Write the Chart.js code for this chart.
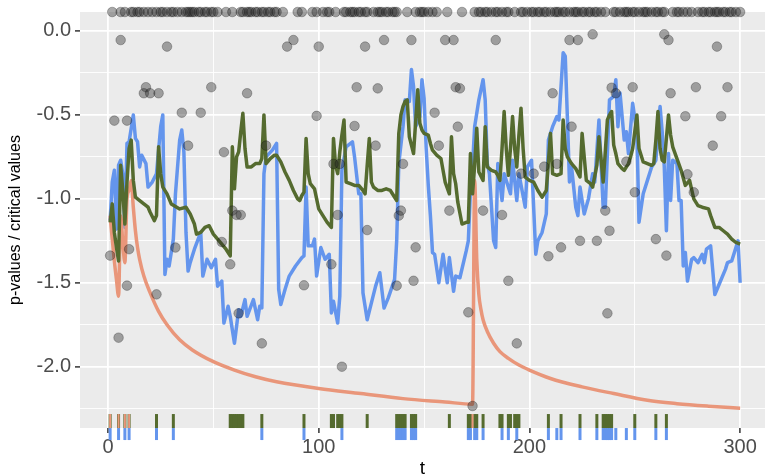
<!DOCTYPE html>
<html>
<head>
<meta charset="utf-8">
<script src="https://cdn.jsdelivr.net/npm/chart.js@4.4.1/dist/chart.umd.min.js"></script>
<style>
  html, body { margin: 0; padding: 0; background: #ffffff; overflow: hidden; }
  #wrap { width: 765px; height: 475px; position: relative; }
</style>
</head>
<body>
<div id="wrap"><canvas id="chart"></canvas></div>
<script>
// ticks
const xMajor = [0, 100, 200, 300];
const xMinor = [50, 150, 250];
const yMajor = [0, -0.5, -1, -1.5, -2];
const yMinor = [-0.25, -0.75, -1.25, -1.75, -2.25];
const xRange = [-13.3, 311.8];
const yRange = [-2.365, 0.113];

// linea azul
const blueT = [1,2,3,4,5,6,7,8,9,10, 12,13,14,15,16,18,19,21,23,24,
  25,26,27,28,29,31,32,34,35,36, 37,38,39,41,44,45,47,49,51,52,
  54,55,57,58,60,62,63,65,66,69, 71,72,73,74,75,78,80,81,82,84,
  86,89,92,93,94,95,97,98,99,101, 103,105,106,107,109,110,111,113,116,117,
  119,120,121,123,125,127,129,131,133,136, 137,138,140,141,143,144,145,146,148,149,
  150,151,152,153,154,155,157,159,161,162, 164,165,167,170,171,172,173,174,176,178,
  179,180,181,182,183,184,185,187,188,191, 192,194,195,198,199,201,202,203,204,206,
  208,209,211,213,214,216,217,218,219,220, 222,223,224,226,228,230,231,233,235,236,
  238,240,241,242,243,245,246,247,249,251, 252,254,256,258,260,262,263,264,265,266,
  267,268,270,271,272,273,274,275,277,278, 280,282,283,284,286,288,290,293,294,296,
  297,299,300];
const blueV = [-1.13,-0.90,-0.83,-1.18,-0.80,-0.77,-0.85,-1.17,-0.67,-0.66, -0.50,-0.64,-0.66,-0.81,-0.74,-0.79,-0.93,-0.90,-0.85,-0.71,
  -0.57,-0.50,-1.45,-1.36,-1.40,-1.24,-0.97,-0.65,-0.59,-0.72, -1.20,-1.43,-1.38,-1.30,-1.20,-1.46,-1.36,-1.41,-1.36,-1.52,
  -1.49,-1.74,-1.64,-1.70,-1.86,-1.66,-1.70,-1.60,-1.70,-1.60, -1.72,-1.64,-1.65,-0.85,-0.75,-0.71,-0.67,-1.54,-1.63,-1.54,
  -1.46,-1.40,-1.35,-1.34,-0.93,-1.28,-1.28,-1.24,-1.46,-1.29, -1.36,-1.33,-1.68,-1.61,-1.74,-1.58,-0.83,-0.69,-0.66,-0.75,
  -0.97,-0.97,-1.56,-1.72,-1.62,-1.52,-1.44,-1.65,-1.59,-1.48, -1.25,-0.79,-0.57,-0.41,-0.42,-0.23,-0.33,-0.57,-0.51,-0.29,
  -0.40,-0.70,-0.92,-1.10,-1.32,-1.33,-1.50,-1.33,-1.50,-1.35, -1.55,-1.46,-1.47,-1.31,-1.25,-0.95,-0.80,-0.57,-0.41,-0.29,
  -0.41,-0.79,-0.85,-1.05,-1.25,-1.29,-0.79,-1.01,-0.85,-0.97, -0.77,-1.01,-0.85,-1.05,-0.81,-0.77,-1.05,-1.33,-1.25,-1.20,
  -1.09,-0.65,-0.57,-0.51,-0.53,-0.13,-0.15,-0.51,-0.90,-0.81, -1.05,-1.10,-0.93,-1.09,-1.00,-0.85,-0.90,-0.53,-1.05,-1.05,
  -0.41,-0.39,-0.29,-0.57,-0.37,-0.65,-0.60,-0.73,-0.43,-0.61, -1.14,-0.97,-0.89,-0.81,-0.77,-0.45,-0.60,-0.81,-1.19,-0.73,
  -1.01,-0.77,-0.79,-1.01,-1.01,-1.40,-1.32,-1.49,-1.36,-1.35, -1.38,-1.33,-1.38,-1.30,-1.28,-1.57,-1.51,-1.42,-1.38,-1.37,
  -1.33,-1.25,-1.50];

// linea verde
const greenT = [1,2,3,4,5,6,7,8,9,10, 11,12,13,14,17,19,20,22,23,24,
  25,26,28,30,34,37,39,41,42,44, 46,48,50,52,54,56,58,59,60,61,
  62,63,64,65,66,68,70,72,73,74, 75,77,79,80,82,84,86,88,90,91,
  92,93,94,95,96,98,100,102,104,106, 107,108,109,110,111,112,113,115,117,119,
  121,122,123,124,125,126,128,130,132,134, 137,138,139,140,141,142,143,145,147,148,
  149,150,152,153,154,156,158,160,162,163, 164,165,166,168,170,171,172,173,174,175,
  176,178,179,180,182,184,185,186,187,188, 189,190,191,192,193,194,195,196,197,198,
  200,202,204,206,207,208,210,211,213,215, 216,217,218,220,222,224,225,227,229,230,
  232,233,235,236,237,238,239,240,241,242, 244,245,247,248,249,251,252,254,256,258,
  259,260,261,262,263,264,266,267,268,270, 272,274,276,278,280,282,285,286,288,290,
  292,294,296,298,300];
const greenV = [-1.14,-1.03,-1.20,-1.29,-1.37,-0.80,-0.95,-1.15,-0.90,-0.70, -0.65,-0.89,-0.99,-1.00,-1.03,-1.05,-1.08,-1.13,-1.10,-0.69,
  -0.85,-0.93,-0.97,-1.03,-1.06,-1.05,-1.09,-1.15,-1.21,-1.20, -1.17,-1.16,-1.21,-1.24,-1.27,-1.30,-1.34,-0.69,-0.94,-0.75,
  -0.72,-0.60,-0.49,-0.70,-0.81,-0.81,-0.79,-0.79,-0.76,-0.50, -0.79,-0.76,-0.74,-0.74,-0.78,-0.84,-0.89,-0.95,-1.00,-1.01,
  -0.98,-0.96,-0.64,-0.85,-0.91,-0.94,-1.06,-1.10,-1.14,-1.17, -0.64,-0.80,-0.85,-0.72,-0.62,-0.53,-0.90,-0.91,-0.92,-0.92,
  -0.95,-0.97,-0.80,-0.64,-0.90,-0.93,-0.95,-0.95,-0.94,-0.95, -1.01,-0.61,-0.50,-0.45,-0.42,-0.41,-0.63,-0.73,-0.35,-0.55,
  -0.59,-0.61,-0.62,-0.67,-0.71,-0.74,-0.76,-0.90,-0.97,-0.63, -0.85,-0.91,-1.02,-1.15,-1.14,-1.14,-0.73,-0.97,-0.80,-0.58,
  -0.84,-0.89,-0.57,-0.81,-0.83,-0.84,-0.86,-0.89,-0.70,-0.48, -0.70,-0.86,-0.70,-0.51,-0.70,-0.81,-0.62,-0.46,-0.70,-0.87,
  -0.89,-0.90,-0.95,-0.99,-0.97,-0.95,-0.61,-0.85,-0.86,-0.85, -0.53,-0.70,-0.75,-0.79,-0.82,-0.87,-0.61,-0.89,-0.91,-0.93,
  -0.80,-0.63,-0.90,-0.72,-0.53,-0.50,-0.48,-0.68,-0.73,-0.79, -0.82,-0.83,-0.79,-0.75,-0.70,-0.50,-0.70,-0.78,-0.79,-0.80,
  -0.79,-0.65,-0.48,-0.70,-0.77,-0.78,-0.50,-0.62,-0.69,-0.76, -0.83,-0.92,-0.89,-1.00,-1.04,-1.05,-1.06,-1.10,-1.17,-1.17,
  -1.19,-1.21,-1.24,-1.26,-1.27];

// valores criticos (naranja)
const orangeT = [1,2,3,4,5,6,7,8,9,10, 11,12,13,14,15,17,20,24,28,34,
  40,50,60,70,80,100,120,140,160,173, 174,175,176,177,178,180,183,186,190,195,
  200,210,225,240,256,270,285,300];
const orangeV = [-1.10,-1.24,-1.37,-1.48,-1.58,-1.10,-1.26,-1.38,-1.00,-0.95, -0.89,-1.05,-1.19,-1.29,-1.36,-1.46,-1.56,-1.67,-1.75,-1.84,
  -1.90,-1.97,-2.02,-2.06,-2.09,-2.13,-2.16,-2.19,-2.21,-2.223, -0.89,-1.36,-1.57,-1.66,-1.72,-1.79,-1.86,-1.91,-1.95,-1.99,
  -2.02,-2.07,-2.12,-2.16,-2.20,-2.22,-2.235,-2.247];

// p-valores
const pointT = [1,3,5,6,9,9,10,17,18,20, 23,24,28,32,35,38,44,49,54,55,
  58,59,61,62,63,66,73,75,85,88, 93,99,100,106,107,109,110,111,117,118,
  122,123,127,128,131,137,138,139,140,144, 145,146,155,157,160,162,164,165,166,167,
  171,173,178,184,187,190,194,196,202,207, 209,211,213,215,219,220,223,224,230,232,
  236,237,238,239,241,246,249,250,260,264, 265,266,267,274,275,278,279,287,289,291,
  294];
const pointV = [-1.338,-0.534,-1.827,-0.054,-1.517,-0.534,-1.30,-0.371,-0.335,-0.371,
  -1.569,-0.371,-0.093,-1.29,-0.487,-0.683,-0.487,-0.335,-1.257,-0.722,
  -1.39,-1.07,-1.096,-1.682,-1.096,-0.371,-1.861,-0.683,-0.093,-0.054,
  -1.515,-0.506,-0.093,-1.39,-0.792,-1.096,-0.792,-2.0,-0.566,-0.335,
  -0.093,-1.186,-0.683,-0.342,-0.054,-1.517,-1.10,-1.07,-0.792,-0.054,
  -1.488,-1.289,-0.487,-0.683,-0.054,-1.07,-0.054,-0.335,-0.57,-0.342,
  -1.676,-2.234,-1.07,-0.054,-1.096,-1.488,-1.861,-0.85,-0.85,-0.808,
  -1.342,-0.371,-0.792,-1.289,-0.054,-0.57,-0.054,-1.25,-0.02,-1.25,
  -1.07,-1.682,-1.19,-0.338,-0.371,-0.778,-0.335,-0.961,-1.24,-0.02,
  -1.338,-0.054,-0.371,-0.508,-0.854,-0.961,-0.335,-0.683,-0.093,-0.508,
  -0.335];

// p-valores en el borde superior
const topT = [2,6,8,11,12,14,15,17,19,21, 23,25,26,28,30,31,33,35,37,38,
  39,40,41,43,44,46,47,49,50,52, 56,59,63,64,66,67,68,70,71,73,
  74,76,77,79,80,83,90,92,97,99, 102,104,105,108,112,113,115,116,117,119,
  120,122,123,126,128,129,130,132,133,135, 136,137,142,146,148,149,150,152,154,156,
  161,168,174,176,177,179,180,182,184,185, 187,189,190,193,196,197,199,201,202,204,
  205,207,208,210,212,213,214,216,217,219, 221,222,223,225,226,228,229,231,232,234,
  236,240,241,243,245,246,247,249,250,252, 254,255,256,258,260,261,263,264,268,270,
  271,273,275,277,280,282,283,285,286,288, 289,290,292,293,295,296,298,300];

// rechazos (rug)
const greenRug = [1,5,8,10,23,31,58,59,60,61,62,63,64,73,93,106,107,109,110,111,123,
  137,138,139,140,141,144,145,146,162,171,172,174,175,178,186,187,190,191,193,194,195,
  209,215,224,232,235,236,237,238,239,250,260,265];
const blueRug = [1,5,8,10,23,31,73,93,111,137,138,139,140,141,144,145,146,171,172,174,175,
  178,187,190,194,209,213,215,224,232,235,236,237,238,239,241,246,250,260,265];
const orangeRug = [1,5,8,10,173];

const BLUE = '#6495ED';
const GREEN = '#556B2F';
const ORANGE = '#E9967A';

function xy(ts, vs) {
    return ts.map((t, i) => ({x: t, y: vs[i]}));
}
function atY(ts, y) {
    return ts.map(t => ({x: t, y: y}));
}

const greenRugY = -2.3235;
const blueRugY = -2.401;

const panelBg = {
    id: 'panelBg',
    beforeDraw(chart) {
        const {ctx, chartArea: a} = chart;
        ctx.save();
        ctx.fillStyle = '#EBEBEB';
        ctx.fillRect(a.left, a.top, a.right - a.left, a.bottom - a.top);
        ctx.restore();
    }
};

Chart.defaults.font.family = "'Liberation Sans', Arial, sans-serif";

const lineBase = {
    pointRadius: 0,
    borderWidth: 3.5,
    tension: 0,
    borderJoinStyle: 'round',
    fill: false
};
const dotStyle = {
    showLine: false,
    pointRadius: 4.8,
    pointHoverRadius: 0,
    pointBackgroundColor: 'rgba(40,40,40,0.4)',
    pointBorderColor: 'rgba(0,0,0,0.25)',
    pointBorderWidth: 1,
    clip: false
};
const rugStyle = {
    showLine: false,
    pointStyle: 'line',
    pointRotation: 90,
    pointHoverRadius: 0,
    clip: false
};

new Chart(document.getElementById('chart'), {
    type: 'line',
    data: {
        datasets: [
            Object.assign({data: atY(topT, yRange[1]), order: 0}, dotStyle),
            Object.assign({data: xy(pointT, pointV), order: 1}, dotStyle),
            Object.assign({data: xy(greenT, greenV), borderColor: GREEN, order: 2}, lineBase),
            Object.assign({data: xy(orangeT, orangeV), borderColor: ORANGE, cubicInterpolationMode: 'monotone', order: 3}, lineBase),
            Object.assign({data: xy(blueT, blueV), borderColor: BLUE, order: 4}, lineBase),
            Object.assign({data: atY(orangeRug, greenRugY), pointRadius: 7, pointBorderWidth: 2, pointBorderColor: ORANGE, order: 5}, rugStyle),
            Object.assign({data: atY(greenRug, greenRugY), pointRadius: 7, pointBorderWidth: 3, pointBorderColor: GREEN, order: 6}, rugStyle),
            Object.assign({data: atY(blueRug, blueRugY), pointRadius: 6, pointBorderWidth: 3, pointBorderColor: BLUE, order: 7}, rugStyle)
        ]
    },
    options: {
        responsive: true,
        maintainAspectRatio: false,
        devicePixelRatio: 1,
        animation: false,
        layout: { autoPadding: false, padding: { top: 12, left: 0, right: 0, bottom: 0 } },
        plugins: { legend: { display: false }, tooltip: { enabled: false } },
        scales: {
            x: {
                type: 'linear',
                min: xRange[0],
                max: xRange[1],
                afterBuildTicks: s => { s.ticks = xMajor.concat(xMinor).sort((a, b) => a - b).map(v => ({value: v})); },
                afterFit: s => { s.height = 47; s.paddingLeft = 0; s.paddingRight = 0; },
                border: { display: false },
                grid: {
                    color: '#FFFFFF',
                    lineWidth: c => (c.tick && xMajor.includes(c.tick.value)) ? 1.8 : 0.9,
                    tickColor: c => (c.tick && xMajor.includes(c.tick.value)) ? '#333333' : 'rgba(0,0,0,0)',
                    tickWidth: 1.5,
                    tickLength: 5
                },
                ticks: {
                    autoSkip: false,
                    maxRotation: 0,
                    padding: 2,
                    color: '#4D4D4D',
                    font: { size: 20 },
                    callback: v => xMajor.includes(v) ? String(v) : ''
                },
                title: {
                    display: true,
                    text: 't',
                    color: '#000000',
                    font: { size: 19, lineHeight: '12px' },
                    padding: { top: 0, bottom: 0 }
                }
            },
            y: {
                type: 'linear',
                min: yRange[0],
                max: yRange[1],
                afterBuildTicks: s => { s.ticks = yMajor.concat(yMinor).sort((a, b) => a - b).map(v => ({value: v})); },
                afterFit: s => { s.width = 80; s.paddingTop = 0; s.paddingBottom = 0; },
                border: { display: false },
                grid: {
                    color: '#FFFFFF',
                    lineWidth: c => (c.tick && yMajor.includes(c.tick.value)) ? 1.8 : 0.9,
                    tickColor: c => (c.tick && yMajor.includes(c.tick.value)) ? '#333333' : 'rgba(0,0,0,0)',
                    tickWidth: 1.5,
                    tickLength: 5
                },
                ticks: {
                    autoSkip: false,
                    padding: 4,
                    color: '#4D4D4D',
                    font: { size: 20 },
                    callback: v => yMajor.includes(v) ? v.toFixed(1) : ''
                },
                title: {
                    display: true,
                    text: 'p-values / critical values',
                    color: '#000000',
                    font: { size: 16, lineHeight: '20px' },
                    padding: { top: 6, bottom: 0 }
                }
            }
        }
    },
    plugins: [panelBg]
});
</script>
</body>
</html>
